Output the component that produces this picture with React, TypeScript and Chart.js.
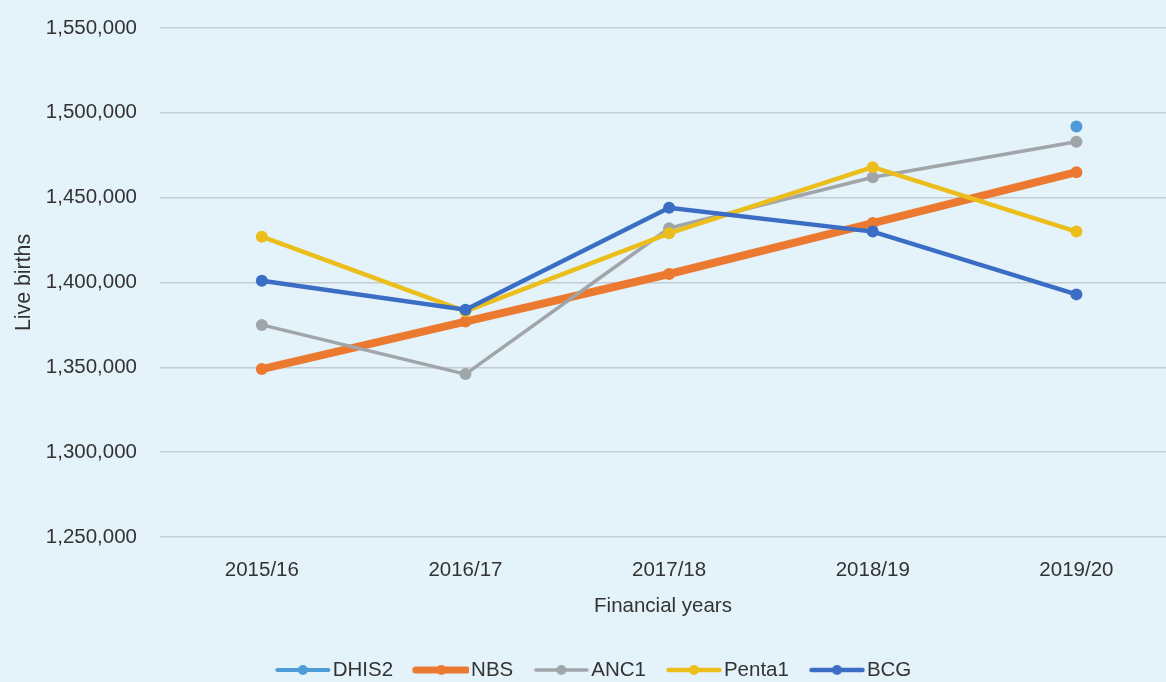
import React, { useEffect, useRef } from 'react';
import { Chart, registerables } from 'chart.js';

Chart.register(...registerables);

const categories = ['2015/16', '2016/17', '2017/18', '2018/19', '2019/20'];
const seriesNames = ['DHIS2', 'NBS', 'ANC1', 'Penta1', 'BCG'];
const dhis2 = [null, null, null, null, 1492000];
const nbs = [1349000, 1377000, 1405000, 1435000, 1465000];
const anc1 = [1375000, 1346000, 1432000, 1462000, 1483000];
const penta1 = [1427000, 1383000, 1429000, 1468000, 1430000];
const bcg = [1401000, 1384000, 1444000, 1430000, 1393000];
const yMin = 1250000;
const yMax = 1550000;
const yStep = 50000;

const colors = ['#4F9BD8', '#EB7A30', '#A0A5A9', '#EBBE1C', '#3C6DC5'];
const lineWidths = [4, 8, 3.5, 4.5, 4.5];

function hasNarrow(): boolean {
  const c = document.createElement('canvas').getContext('2d');
  if (!c) return false;
  c.font = '40px monospace';
  const w1 = c.measureText('1,550,000 Financial').width;
  c.font = '40px "Liberation Sans Narrow", monospace';
  const w2 = c.measureText('1,550,000 Financial').width;
  return Math.abs(w1 - w2) > 0.5;
}

function legendImage(color: string, lw: number, B: number, s: number, L: number, H: number) {
  const W = 2 * Math.max(B / 2 - s, s + L - B / 2);
  const imgLeft = B / 2 - W / 2;
  const cv = document.createElement('canvas');
  cv.width = Math.ceil(W);
  cv.height = H;
  const ctx = cv.getContext('2d')!;
  const x0 = s - imgLeft;
  ctx.strokeStyle = color;
  ctx.lineWidth = Math.min(lw, 7);
  ctx.lineCap = 'round';
  ctx.beginPath();
  ctx.moveTo(x0 + 2, H / 2);
  ctx.lineTo(x0 + L - 2, H / 2);
  ctx.stroke();
  ctx.fillStyle = color;
  ctx.beginPath();
  ctx.arc(x0 + L / 2, H / 2, 5, 0, Math.PI * 2);
  ctx.fill();
  return cv;
}

export default function App() {
  const ref = useRef<HTMLCanvasElement>(null);

  useEffect(() => {
    if (!ref.current) return;
    const narrow = hasNarrow();
    const fam = narrow
      ? '"Liberation Sans Narrow", "Liberation Sans", Arial, sans-serif'
      : '"Liberation Sans", Arial, sans-serif';
    const k = narrow ? 1 : 0.82;
    const fs = 25 * k;
    const fsY = 26 * k;
    const textColor = '#333333';
    const padLeft = 10;

    // legend geometry
    const L = 55;
    const s = 11;
    const B = s + L + 2 - fs / 2;
    const legendPad = 10;
    const legendH = fs + legendPad + 10;
    const legendCenterTarget = 670;
    const legendTop = legendCenterTarget - (legendPad + fs / 2);
    const bottomPad = 682 - (legendTop + legendH);
    const xAxisH = legendTop - 537;

    const images = colors.map((c, i) => legendImage(c, lineWidths[i], B, s, L, 20));

    const allSeries = [dhis2, nbs, anc1, penta1, bcg];
    const datasets = allSeries.map((arr, i) => ({
      label: seriesNames[i],
      data: arr.map((v, j) => ({ x: j, y: v })),
      borderColor: colors[i],
      backgroundColor: colors[i],
      borderWidth: lineWidths[i],
      pointRadius: 6,
      pointBorderWidth: 0,
      pointBackgroundColor: colors[i],
      pointHoverRadius: 6,
      tension: 0,
      order: 5 - i,
    }));

    const chart = new Chart(ref.current, {
      type: 'line',
      data: { datasets },
      options: {
        animation: false,
        responsive: false,
        maintainAspectRatio: false,
        layout: {
          autoPadding: false,
          padding: { top: 28, left: padLeft, right: 0, bottom: bottomPad },
        },
        plugins: {
          tooltip: { enabled: false },
          legend: {
            position: 'bottom',
            align: 'center',
            labels: {
              usePointStyle: true,
              pointStyleWidth: B,
              padding: legendPad,
              color: textColor,
              font: { family: fam, size: fs },
              sort: (a: any, b: any) => a.datasetIndex - b.datasetIndex,
              generateLabels: (ch: any) => {
                const items = Chart.defaults.plugins.legend.labels.generateLabels(ch);
                items.forEach((it: any) => {
                  it.pointStyle = images[it.datasetIndex];
                  it.lineWidth = 0;
                });
                return items;
              },
            },
          },
        },
        scales: {
          x: {
            type: 'linear',
            min: -0.5,
            max: 4.44,
            grid: { display: false },
            border: { display: false },
            afterBuildTicks: (scale: any) => {
              scale.ticks = categories.map((_, i) => ({ value: i }));
            },
            afterFit: (scale: any) => {
              scale.height = xAxisH;
              scale.paddingLeft = 0;
              scale.paddingRight = 0;
            },
            ticks: {
              autoSkip: false,
              maxRotation: 0,
              padding: 13,
              color: textColor,
              font: { family: fam, size: fs },
              callback: (v: any) => categories[v as number] ?? '',
            },
            title: {
              display: true,
              text: 'Financial years',
              color: textColor,
              font: { family: fam, size: fs },
              padding: { top: 0, bottom: legendTop - 606 - (fs * 1.2) / 2 },
            },
          },
          y: {
            min: yMin,
            max: yMax,
            grid: {
              color: '#C4CDD2',
              lineWidth: 1.5,
              drawTicks: true,
              tickLength: 23,
              tickColor: 'rgba(0,0,0,0)',
            },
            border: { display: false },
            afterFit: (scale: any) => {
              scale.width = 160 - padLeft;
              scale.paddingTop = 0;
              scale.paddingBottom = 0;
            },
            ticks: {
              stepSize: yStep,
              padding: 0,
              color: textColor,
              font: { family: fam, size: fs },
              callback: (v: any) => Number(v).toLocaleString('en-US'),
            },
            title: {
              display: true,
              text: 'Live births',
              color: textColor,
              font: { family: fam, size: fsY },
              padding: { top: 24.5 - padLeft - (fsY * 1.2) / 2, bottom: 0 },
            },
          },
        },
      },
    } as any);

    return () => chart.destroy();
  }, []);

  return (
    <div
      style={{
        position: 'fixed',
        left: 0,
        top: 0,
        width: 1166,
        height: 682,
        background: '#E4F3FA',
        overflow: 'hidden',
      }}
    >
      <canvas ref={ref} width={1166} height={682} style={{ display: 'block', width: 1166, height: 682 }} />
    </div>
  );
}
